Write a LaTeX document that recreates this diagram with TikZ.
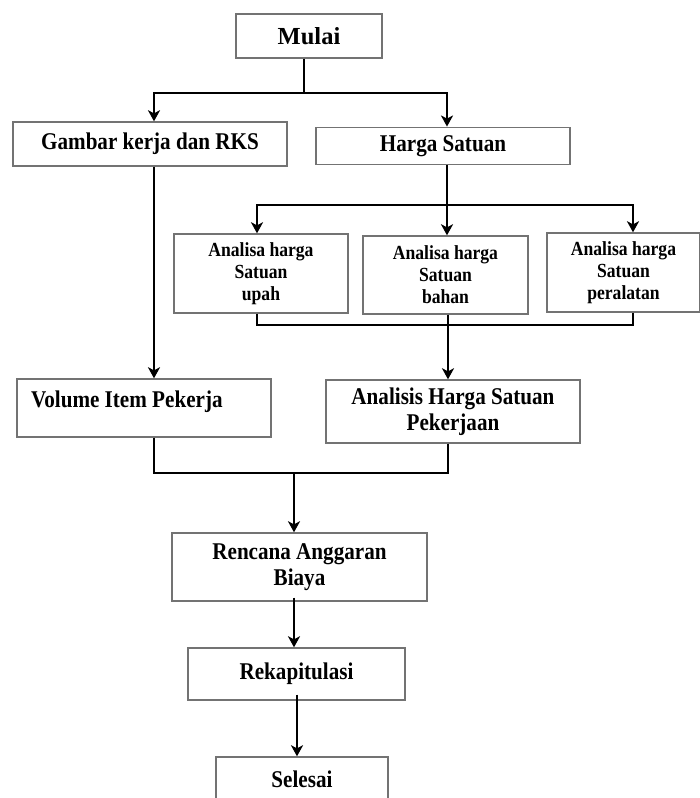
\documentclass[tikz,border=0pt]{standalone}
\usepackage{fontspec}
\setmainfont{Liberation Serif}
\newfontfamily\boxfont[FakeStretch=0.88]{Liberation Serif}
\usetikzlibrary{arrows.meta}
\begin{document}
\begin{tikzpicture}[x=1pt,y=-1pt,
  box/.style={draw=black!55, line width=1.4pt, rectangle, inner sep=0pt, align=center,
    font=\boxfont\fontsize{24}{26}\selectfont\bfseries},
  smallbox/.style={box, font=\boxfont\fontsize{20}{22}\selectfont\bfseries},
  conn/.style={line width=2.8pt, black},
  arr/.style={conn, -{Stealth[length=11pt,width=12pt,inset=3pt]}}]
\useasboundingbox (0,0) rectangle (700,798);
\clip (0,0) rectangle (700,798);

\node[box, minimum width=146pt, minimum height=44pt, font=\fontsize{24.5}{26}\selectfont\bfseries] (mulai) at (309,36) {Mulai};
\node[box, minimum width=274pt, minimum height=44pt] (gambar) at (150,144) {Gambar kerja dan RKS};
\node[box, minimum width=254pt, minimum height=37pt] (harga) at (443,145.75) {Harga Satuan};
\node[smallbox, minimum width=174pt, minimum height=79pt] (upah) at (261,273.5) {Analisa harga\\Satuan\\upah};
\node[smallbox, minimum width=165pt, minimum height=78pt] (bahan) at (445.5,275) {Analisa harga\\Satuan\\bahan};
\node[smallbox, minimum width=153pt, minimum height=79pt] (peralatan) at (623.5,272.5) {Analisa harga\\Satuan\\peralatan};
\node[box, minimum width=254pt, minimum height=58pt, text width=226pt, align=flush left] (volume) at (144,408) {Volume Item Pekerja\\[-8pt]\mbox{}};
\node[box, minimum width=254pt, minimum height=63pt] (analisis) at (453,411.5) {Analisis Harga Satuan\\Pekerjaan};
\node[box, minimum width=255pt, minimum height=68pt] (rencana) at (299.5,567) {Rencana Anggaran\\Biaya};
\node[box, minimum width=217pt, minimum height=52pt] (rekap) at (296.5,674) {Rekapitulasi};
\node[box, minimum width=172pt, minimum height=44pt] (selesai) at (302,779) {Selesai};

% Mulai split
\coordinate (j1) at (304,93);
\draw[conn] ([xshift=-5pt]mulai.south) -- (j1);
\draw[arr] (j1) -| ([xshift=4pt]gambar.north);
\draw[arr] (j1) -| ([xshift=4pt]harga.north);

% Gambar -> Volume
\draw[arr] ([xshift=4pt]gambar.south) -- ([xshift=4pt]gambar.south |- volume.north);

% Harga split
\coordinate (j2) at (447,205);
\draw[conn] ([xshift=4pt]harga.south) -- (j2);
\draw[arr] (j2) -| ([xshift=-4pt]upah.north);
\draw[arr] (j2) -- (j2 |- bahan.north);
\draw[arr] (j2) -| ([xshift=9.5pt]peralatan.north);

% Analisa merge
\coordinate (j3) at (448,325);
\draw[conn] ([xshift=-4pt]upah.south) |- (j3);
\draw[conn] ([xshift=9.5pt]peralatan.south) |- (j3);
\draw[arr] (j3 |- bahan.south) -- (j3 |- analisis.north);

% Volume + Analisis merge
\coordinate (j4) at (294,473);
\draw[conn] ([xshift=10pt]volume.south) |- (j4);
\draw[conn] ([xshift=-5pt]analisis.south) |- (j4);
\draw[arr] (j4) -- (j4 |- rencana.north);

% lower chain
\draw[arr] ([xshift=-5.5pt,yshift=4pt]rencana.south) -- ([xshift=-5.5pt]rencana.south |- rekap.north);
\draw[arr] ([xshift=0.5pt,yshift=6pt]rekap.south) -- ([xshift=0.5pt]rekap.south |- selesai.north);
\end{tikzpicture}
\end{document}
